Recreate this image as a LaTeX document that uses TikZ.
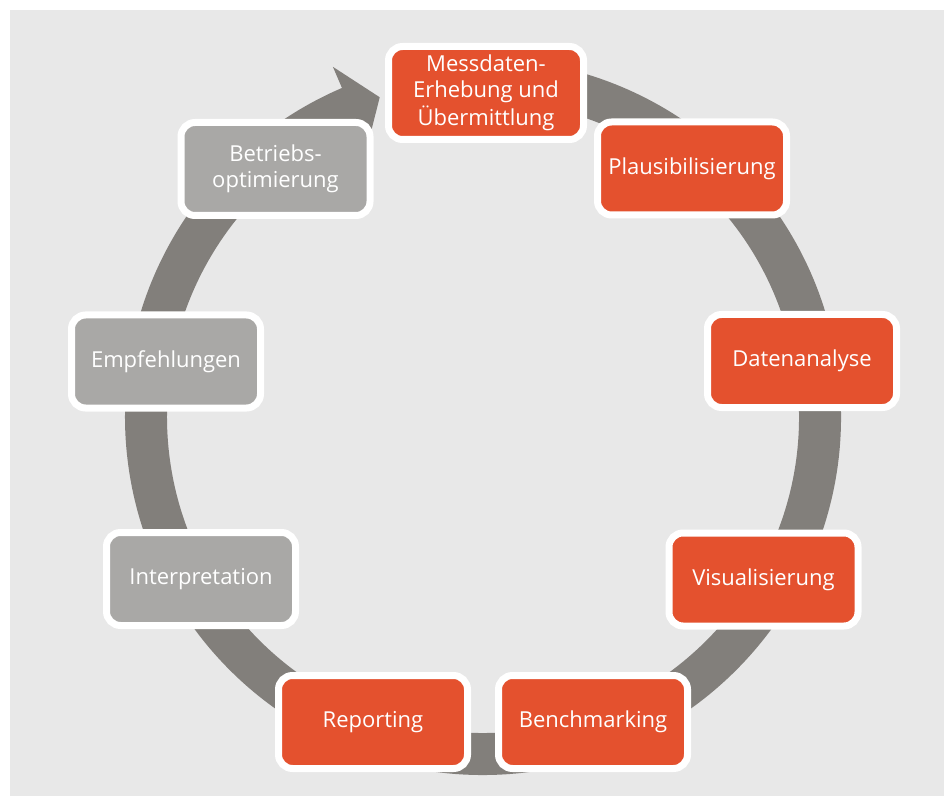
\documentclass[tikz,border=0pt]{standalone}
\usepackage{fontspec}
\setmainfont{Open Sans}
\usetikzlibrary{calc}
\definecolor{bgray}{RGB}{232,232,232}
\definecolor{ringc}{RGB}{130,127,123}
\definecolor{orng}{RGB}{228,81,46}
\definecolor{gbox}{RGB}{169,168,166}
\tikzset{
  stepbox/.style={rounded corners=14pt, draw=white, line width=7pt,
    minimum width=189pt, minimum height=93pt, inner sep=0pt,
    text=white, align=center,
    font=\fontsize{22}{26.5}\selectfont},
  obox/.style={stepbox, fill=orng},
  gybox/.style={stepbox, fill=gbox}
}
\begin{document}
\begin{tikzpicture}[x=1pt,y=1pt]
\useasboundingbox (0,0) rectangle (944,796);
\fill[white] (0,0) rectangle (944,796);
\fill[bgray] (10,0) rectangle (944,786);
\coordinate (c) at (483,379);
% ring
\draw[ringc, line width=42pt] ($(c)+(96:337)$) arc[start angle=96, end angle=-248.5, radius=337];
\fill[ringc] ($(c)+(113.2:294)$) -- ($(c)+(113.2:381)$) -- ($(c)+(107.9:336)$) -- cycle;
% boxes
\node[obox, minimum width=195pt, minimum height=93pt] (m) at (486,703) {\raisebox{-3pt}{\begin{tabular}{@{}c@{}}Messdaten-\\Erhebung und\\Übermittlung\end{tabular}}};
\node[obox] (p) at (692,627.5) {Plausibilisierung};
\node[obox] (d) at (802,435) {Datenanalyse};
\node[obox] (v) at (763.5,216.5) {Visualisierung};
\node[obox] (b) at (593,74) {Benchmarking};
\node[obox] (r) at (373,74) {Reporting};
\node[gybox] (i) at (201,217) {Interpretation};
\node[gybox] (e) at (166,434.5) {Empfehlungen};
\node[gybox] (o) at (275.5,627) {Betriebs-\\optimierung};
\end{tikzpicture}
\end{document}
